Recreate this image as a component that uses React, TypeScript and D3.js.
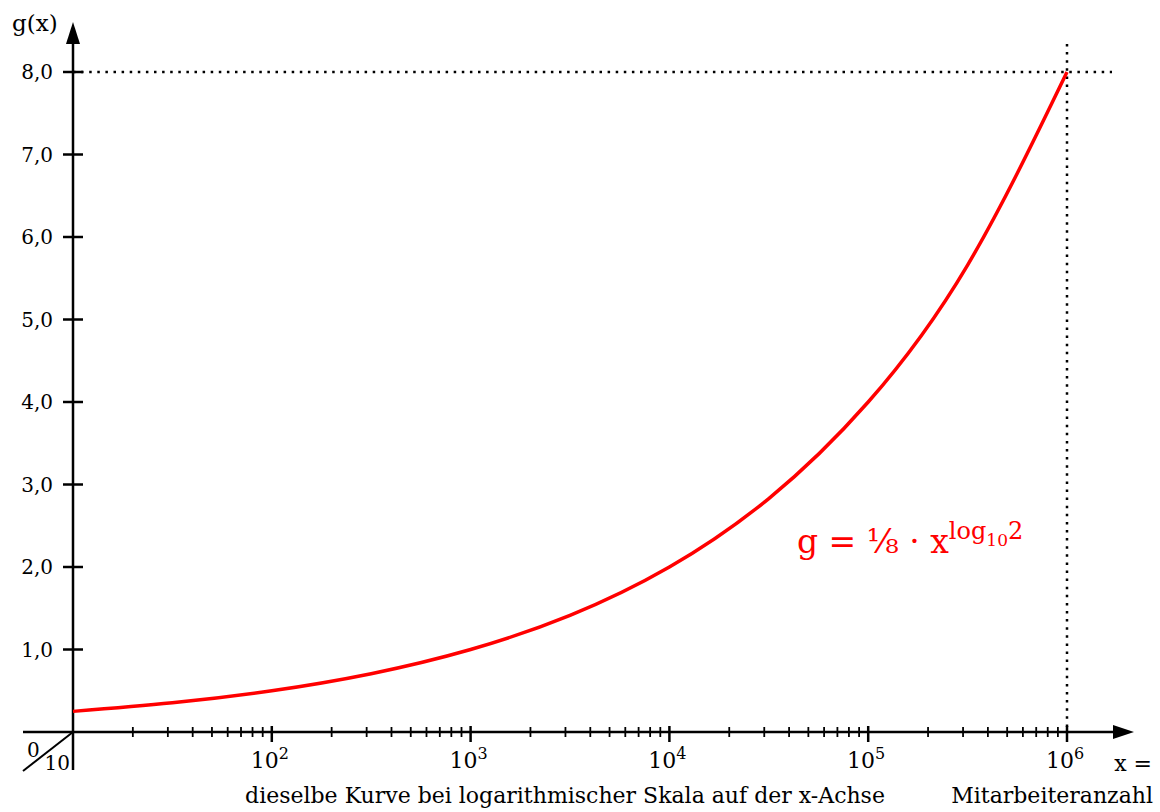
import React from 'react';
import * as d3 from 'd3';

// x values (employees, half-decade steps) and g(x)
const xValues = [10, 31.6, 100, 316, 1000, 3162, 1e4, 31623, 1e5, 316228, 1e6];
const gValues = [0.25, 0.354, 0.5, 0.707, 1.0, 1.414, 2.0, 2.83, 4.0, 5.66, 8.0];

const yTicks = [1, 2, 3, 4, 5, 6, 7, 8];
const yTickLabels = ['1,0', '2,0', '3,0', '4,0', '5,0', '6,0', '7,0', '8,0'];
const decadeExps = [2, 3, 4, 5, 6];

const FONT = '"DejaVu Serif", serif';

export default function App() {
  const x = d3.scaleLog().domain([10, 1e6]).range([73, 1067]);
  const y = d3.scaleLinear().domain([0, 8]).range([732, 72]);
  const axisY = y(0);
  const axisX = x(10);

  const line = d3.line<number>()
    .x((_, i) => x(xValues[i]))
    .y(d => y(d))
    .curve(d3.curveNatural);

  // minor ticks 2..9 in every decade
  const minor: number[] = [];
  for (let e = 1; e < 6; e++) {
    for (let m = 2; m <= 9; m++) minor.push(m * Math.pow(10, e));
  }

  return (
    <svg width={1160} height={812} style={{ position: 'absolute', left: 0, top: 0, background: '#fff' }}
      fontFamily={FONT}>
      {/* dotted guides at 10^6 / 8,0 */}
      <line x1={axisX} x2={1112} y1={y(8)} y2={y(8)} stroke="#000" strokeWidth={2.5} strokeDasharray="2.5 5.6" />
      <line x1={x(1e6)} x2={x(1e6)} y1={44} y2={axisY} stroke="#000" strokeWidth={2.5} strokeDasharray="2.5 5.6" />

      {/* x axis */}
      <line x1={23} x2={1115} y1={axisY} y2={axisY} stroke="#000" strokeWidth={2.5} />
      <path d={`M1134,${axisY} L1113,${axisY - 7} L1113,${axisY + 7} Z`} fill="#000" />
      {/* y axis */}
      <line x1={axisX} x2={axisX} y1={42} y2={770} stroke="#000" strokeWidth={2.5} />
      <path d={`M${axisX},22 L${axisX - 7},44 L${axisX + 7},44 Z`} fill="#000" />
      {/* axis break 0 / 10 */}
      <line x1={23} y1={771} x2={axisX} y2={axisY} stroke="#000" strokeWidth={2} />
      <text x={27} y={757} fontSize={20}>0</text>
      <text x={70} y={770} fontSize={20} textAnchor="end">10</text>

      {minor.map(v => (
        <line key={v} x1={x(v)} x2={x(v)} y1={axisY - 5} y2={axisY + 5} stroke="#000" strokeWidth={1.8} />
      ))}
      {decadeExps.map(e => (
        <g key={e}>
          <line x1={x(Math.pow(10, e))} x2={x(Math.pow(10, e))} y1={axisY - 6} y2={axisY + 10} stroke="#000" strokeWidth={2.5} />
          <text x={x(Math.pow(10, e)) - 2} y={768} fontSize={22} textAnchor="middle">
            10<tspan dy={-9} fontSize={16}>{e}</tspan>
          </text>
        </g>
      ))}

      {yTicks.map((t, i) => (
        <g key={t}>
          <line x1={axisX - 10} x2={axisX + 10} y1={y(t)} y2={y(t)} stroke="#000" strokeWidth={2.5} />
          <text x={53} y={y(t) + 7} fontSize={20} textAnchor="end">{yTickLabels[i]}</text>
        </g>
      ))}

      <path d={line(gValues) || ''} fill="none" stroke="#ff0000" strokeWidth={3.5} />

      <text x={12} y={31} fontSize={23}>g(x)</text>
      <text x={1152} y={771} fontSize={22} textAnchor="end">x =</text>
      <text x={1153} y={803} fontSize={22} textAnchor="end">Mitarbeiteranzahl</text>
      <text x={565} y={803} fontSize={22} textAnchor="middle">dieselbe Kurve bei logarithmischer Skala auf der x-Achse</text>

      <text x={797} y={553} fontSize={33} fill="#ff0000">
        g = ⅛ · x<tspan dy={-14} fontSize={24}>log</tspan><tspan dy={7} fontSize={17}>10</tspan><tspan dy={-7} fontSize={24}>2</tspan>
      </text>
    </svg>
  );
}
